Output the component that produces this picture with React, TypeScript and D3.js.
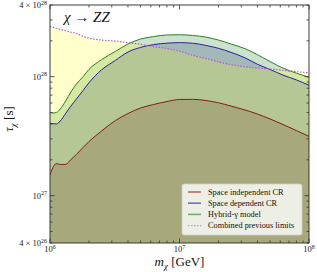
import React from 'react';
import * as d3 from 'd3';

// chart values (mass in GeV, lifetime in units of 1e27 s)
const massGeV = [1.0e6, 1.05e6, 1.12e6, 1.2e6, 1.32e6, 1.45e6, 1.6e6, 1.8e6, 2.0e6, 2.5e6, 3.2e6, 4.0e6, 5.0e6,
  6.3e6, 8.0e6, 1.0e7, 1.26e7, 1.6e7, 2.0e7, 2.5e7, 3.2e7, 4.0e7, 5.0e7, 6.3e7, 8.0e7, 1.0e8];
const spaceIndep = [1.49, 1.71, 1.86, 1.83, 1.83, 2.01, 2.22, 2.54, 2.85, 3.49, 4.28, 4.90, 5.45,
  5.83, 6.18, 6.43, 6.45, 6.30, 6.03, 5.66, 5.25, 4.85, 4.41, 3.96, 3.52, 3.15];
const spaceDep = [4.06, 4.03, 4.00, 4.24, 4.90, 5.66, 6.49, 7.65, 8.89, 11.4, 13.7, 16.1, 17.6,
  18.6, 19.1, 19.3, 19.1, 18.3, 17.3, 16.0, 14.4, 12.7, 11.5, 10.3, 9.38, 8.46];
const hybrid = [4.98, 4.95, 5.00, 5.35, 6.24, 7.43, 8.67, 10.0, 11.5, 13.9, 16.3, 18.8, 20.7,
  21.7, 22.4, 22.5, 22.2, 21.5, 20.3, 18.8, 17.2, 15.3, 13.4, 11.8, 10.7, 9.87];
const combined = [26.4, 26.1, 25.5, 25.0, 24.3, 23.6, 23.1, 21.8, 21.1, 20.3, 19.9, 19.3, 18.7,
  17.9, 17.2, 16.4, 15.1, 14.2, 13.3, 12.6, 12.1, 11.8, 11.6, 11.3, 11.0, 10.8];
const tauUnit = 1e27;

const legendLabels = ['Space independent CR', 'Space dependent CR', 'Hybrid-γ model', 'Combined previous limits'];
const xTickLabels = [{ v: 1e6, exp: '6' }, { v: 1e7, exp: '7' }, { v: 1e8, exp: '8' }];
const yTickLabels = [{ v: 4e26, pre: '4 × ', exp: '26' }, { v: 1e27, pre: '', exp: '27' },
  { v: 1e28, pre: '', exp: '28' }, { v: 4e28, pre: '4 × ', exp: '28' }];

const W = 317, H = 272;
const margin = { left: 50, right: 8, top: 5, bottom: 29 };
const serif = '"Liberation Serif", "DejaVu Serif", serif';

export default function App() {
  const x = d3.scaleLog().domain([1e6, 1e8]).range([margin.left, W - margin.right]);
  const y = d3.scaleLog().domain([4e26, 4e28]).range([H - margin.bottom, margin.top]);
  const y0 = y.range()[0];

  const series = (vals: number[]) => massGeV.map((m, i) => [m, vals[i] * tauUnit] as [number, number]);
  const area = d3.area<[number, number]>().x(d => x(d[0])).y0(y0).y1(d => y(d[1])).curve(d3.curveMonotoneX);
  const line = d3.line<[number, number]>().x(d => x(d[0])).y(d => y(d[1])).curve(d3.curveMonotoneX);

  const red = series(spaceIndep), blue = series(spaceDep), green = series(hybrid), prev = series(combined);

  const [xl, xr] = x.range();
  const [yb, yt] = y.range();

  const xTicks = x.ticks();
  const yTicks = y.ticks();
  const isMajor = (v: number) => Math.abs(Math.log10(v) - Math.round(Math.log10(v))) < 1e-6;

  const legendColors = ['#b46a6a', '#6f6fd2', '#6cb06c', '#cc88ee'];
  const lx = 182, ly = 184;

  return (
    <div style={{ position: 'absolute', left: 0, top: 0 }}>
      <svg width={W} height={H} style={{ display: 'block', background: '#fff' }}>
        <defs>
          <clipPath id="plot"><rect x={xl} y={yt} width={xr - xl} height={yb - yt} /></clipPath>
        </defs>
        <g clipPath="url(#plot)">
          <path d={area(green)!} fill="rgb(55,139,55)" fillOpacity={0.25} />
          <path d={area(blue)!} fill="rgb(65,89,138)" fillOpacity={0.3} />
          <path d={area(red)!} fill="rgb(114,78,97)" fillOpacity={0.35} />
          <path d={area(prev)!} fill="#ffff00" fillOpacity={0.2} />
          <path d={line(green)!} fill="none" stroke="#2a802a" strokeWidth={1} />
          <path d={line(blue)!} fill="none" stroke="#23239a" strokeWidth={1} />
          <path d={line(red)!} fill="none" stroke="#801c1c" strokeWidth={1} />
          <path d={line(prev)!} fill="none" stroke="#bb55dd" strokeWidth={1.2} strokeDasharray="1.5,1.5" />
        </g>

        {/* ticks, pointing inwards on all four sides */}
        {xTicks.map((t, i) => {
          const len = isMajor(t) ? 4.5 : 2.5;
          return (
            <g key={'xt' + i} stroke="#333" strokeWidth={0.8}>
              <line x1={x(t)} x2={x(t)} y1={yb} y2={yb - len} />
              <line x1={x(t)} x2={x(t)} y1={yt} y2={yt + len} />
            </g>
          );
        })}
        {yTicks.map((t, i) => {
          const len = isMajor(t) ? 4.5 : 2.5;
          return (
            <g key={'yt' + i} stroke="#333" strokeWidth={0.8}>
              <line x1={xl} x2={xl + len} y1={y(t)} y2={y(t)} />
              <line x1={xr} x2={xr - len} y1={y(t)} y2={y(t)} />
            </g>
          );
        })}
        <rect x={xl} y={yt} width={xr - xl} height={yb - yt} fill="none" stroke="#3a3a3a" strokeWidth={1} />

        {/* tick labels */}
        {xTickLabels.map((t, i) => (
          <text key={'xl' + i} x={x(t.v)} y={yb + 9} fontFamily={serif} fontSize={8.5} textAnchor="middle" fill="#222">
            10<tspan fontSize={6} dy={-3.5}>{t.exp}</tspan>
          </text>
        ))}
        {yTickLabels.map((t, i) => (
          <text key={'yl' + i} x={xl - 3} y={y(t.v) + 3} fontFamily={serif} fontSize={8.5} textAnchor="end" fill="#222">
            {t.pre}10<tspan fontSize={6} dy={-3.5}>{t.exp}</tspan>
          </text>
        ))}

        {/* axis labels */}
        <text x={(xl + xr) / 2} y={266} fontFamily={serif} fontSize={13} textAnchor="middle" fill="#111">
          <tspan fontStyle="italic">m</tspan><tspan fontStyle="italic" fontSize={9} dy={2.5}>χ</tspan>
          <tspan dy={-2.5}> [GeV]</tspan>
        </text>
        <text transform={`translate(13,${(yt + yb) / 2 - 5}) rotate(-90)`} fontFamily={serif} fontSize={13} textAnchor="middle" fill="#111">
          <tspan fontStyle="italic">τ</tspan><tspan fontStyle="italic" fontSize={9} dy={2.5}>χ</tspan>
          <tspan dy={-2.5}> [s]</tspan>
        </text>

        {/* title */}
        <text x={64} y={22} fontFamily={serif} fontSize={15} fontStyle="italic" fill="#111">
          χ <tspan fontStyle="normal">→</tspan> ZZ
        </text>

        {/* legend */}
        <rect x={lx} y={ly} width={120} height={51} rx={2} fill="#fff" fillOpacity={0.8} stroke="#cfcfcf" strokeWidth={0.8} />
        {legendLabels.map((lab, i) => {
          const ry = ly + 8 + i * 11.2;
          return (
            <g key={'lg' + i}>
              <line x1={lx + 6} x2={lx + 19} y1={ry} y2={ry} stroke={legendColors[i]} strokeWidth={i === 3 ? 1.3 : 1.6}
                strokeDasharray={i === 3 ? '1.5,1.5' : undefined} />
              <text x={lx + 26} y={ry + 2.8} fontFamily={serif} fontSize={8.3} fill="#111">{lab}</text>
            </g>
          );
        })}
      </svg>
    </div>
  );
}
